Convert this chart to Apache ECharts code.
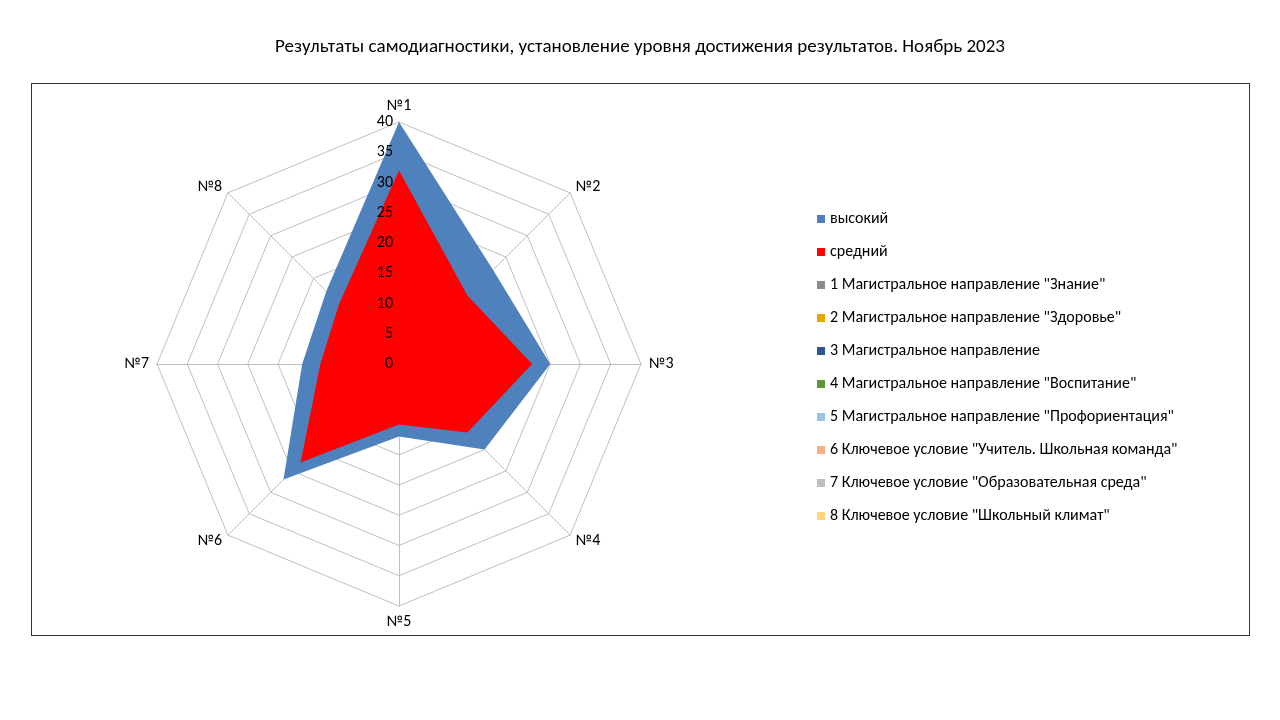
<!DOCTYPE html>
<html>
<head>
<meta charset="utf-8">
<script src="https://cdn.jsdelivr.net/npm/echarts@6/dist/echarts.min.js"></script>
<style>
  html, body { margin: 0; padding: 0; background: #fff; }
  #frame { position: absolute; left: 31px; top: 83px; width: 1217px; height: 551px; border: 1px solid #333; }
  #main { width: 1280px; height: 720px; }
</style>
</head>
<body>
<div id="frame"></div>
<div id="main"></div>
<script>
var axes = ['№1', '№2', '№3', '№4', '№5', '№6', '№7', '№8'];
var high = [40, 22, 25, 20, 12, 27, 16, 17];
var mid = [32, 16, 22, 16, 10, 23, 13, 14];
var seriesNames = [
    'высокий',
    'средний',
    '1 Магистральное направление "Знание"',
    '2 Магистральное направление "Здоровье"',
    '3 Магистральное направление',
    '4 Магистральное направление "Воспитание"',
    '5 Магистральное направление "Профориентация"',
    '6 Ключевое условие "Учитель. Школьная команда"',
    '7 Ключевое условие "Образовательная среда"',
    '8 Ключевое условие "Школьный климат"'
];
var colors = ['#4f81bd', '#ff0000', '#8c8c8c', '#e6a800', '#2f5597', '#5b9a3c', '#9dc3e6', '#f4b183', '#bfbfbf', '#ffd47a'];

// ECharts radar goes counter-clockwise, so keep №1 first and reverse the rest
function clockwise(arr) {
    return [arr[0]].concat(arr.slice(1).reverse());
}

var myChart = echarts.init(document.getElementById('main'));

var dataItems = seriesNames.map(function(n, i) {
    var v = i === 0 ? high : (i === 1 ? mid : []);
    return {
        name: n,
        value: clockwise(v),
        symbol: 'none',
        itemStyle: { color: colors[i] },
        lineStyle: { width: 0, color: colors[i] },
        areaStyle: { color: colors[i], opacity: 1 }
    };
});

var radarBase = {
    center: [399, 364],
    radius: 242,
    startAngle: 90,
    splitNumber: 8,
    shape: 'polygon'
};

var option = {
    animation: false,
    textStyle: { fontFamily: 'Calibri, Carlito, "Liberation Sans", sans-serif' },
    title: {
        text: 'Результаты самодиагностики, установление уровня достижения результатов. Ноябрь 2023',
        left: 'center',
        top: 33,
        textStyle: { fontSize: 19, fontWeight: 'normal', color: '#000' }
    },
    legend: {
        orient: 'vertical',
        left: 812,
        top: 206,
        icon: 'rect',
        itemWidth: 8,
        itemHeight: 8,
        itemGap: 17,
        data: seriesNames,
        textStyle: { fontSize: 16, color: '#000' }
    },
    radar: [
        Object.assign({}, radarBase, {
            axisName: { color: '#000', fontSize: 16 },
            nameGap: 8,
            splitLine: { lineStyle: { color: '#bfbfbf', width: 1 } },
            splitArea: { show: false },
            axisLine: { lineStyle: { color: '#bfbfbf' } },
            axisLabel: { show: false },
            indicator: clockwise(axes).map(function(a) {
                return { name: a, min: 0, max: 40 };
            })
        }),
        // label-only overlay so tick numbers sit above the filled areas
        Object.assign({}, radarBase, {
            zlevel: 1,
            axisName: { show: false },
            splitLine: { show: false },
            splitArea: { show: false },
            axisLine: { show: false },
            axisTick: { show: false },
            indicator: axes.map(function(a, i) {
                return {
                    name: '',
                    min: 0,
                    max: 40,
                    axisLabel: i === 0 ? { show: true, color: '#000', fontSize: 16, margin: 6, showMaxLabel: true } : { show: false }
                };
            })
        })
    ],
    series: [{
        type: 'radar',
        radarIndex: 0,
        data: dataItems
    }]
};

myChart.setOption(option);
</script>
</body>
</html>
